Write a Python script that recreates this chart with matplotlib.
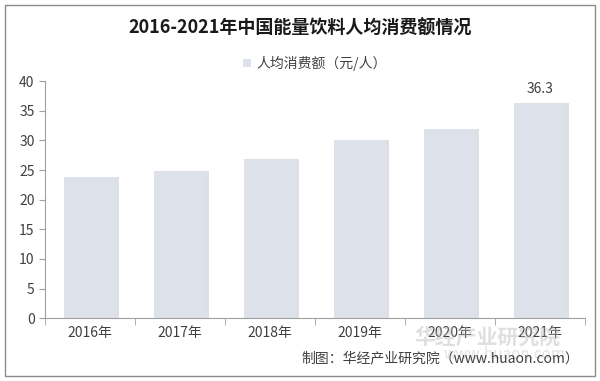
import matplotlib.pyplot as plt
from matplotlib.patches import Rectangle
import numpy as np

plt.rcParams['font.family'] = ['Noto Sans CJK SC', 'DejaVu Sans']

years = ["2016年", "2017年", "2018年", "2019年", "2020年", "2021年"]
spend = [23.8, 24.9, 26.9, 30.0, 32.0, 36.3]
series_name = "人均消费额（元/人）"

fig = plt.figure(figsize=(6.0, 3.81), dpi=100)
ax = fig.add_axes([0.075, 0.165, 0.9, 0.622])

x = np.arange(len(years))
bar_color = "#dde1ea"
# soft shadow to the right of each bar
ax.bar(x + 0.03, spend, width=0.58, color="#c8cad0", alpha=0.6, zorder=1)
ax.bar(x, spend, width=0.58, color=bar_color, zorder=2, label=series_name)

ax.text(x[-1], spend[-1] + 1.2, f"{spend[-1]}", ha="center", va="bottom",
        fontsize=10, color="#404040")

ax.set_xlim(-0.5, len(years) - 0.5)
ax.set_ylim(0, 40)
ax.set_yticks(range(0, 41, 5))
ax.set_xticks(x)
ax.set_xticklabels(years)
ax.set_xticks(np.arange(-0.5, len(years), 1), minor=True)
ax.tick_params(axis="x", which="major", length=0, pad=6, labelsize=10, labelcolor="#404040")
ax.tick_params(axis="x", which="minor", length=5, color="#a0a0a0")
ax.tick_params(axis="y", length=4, color="#a0a0a0", labelsize=10, labelcolor="#404040")

for s in ["top", "right"]:
    ax.spines[s].set_visible(False)
for s in ["left", "bottom"]:
    ax.spines[s].set_color("#a0a0a0")

fig.text(0.5, 0.925, "2016-2021年中国能量饮料人均消费额情况", ha="center", va="center",
         fontsize=13, fontweight="bold", color="#1a1a1a")

ax.legend(loc="upper center", bbox_to_anchor=(0.5, 1.16), frameon=False,
          fontsize=10, handlelength=0.6, handleheight=0.6, handletextpad=0.4,
          labelcolor="#404040")

# watermark
fig.text(0.69, 0.115, "华经产业研究院", fontsize=15, fontweight="bold",
         color="#b8b8b8", alpha=0.45, va="center")
fig.text(0.74, 0.07, "www.huaon.com", fontsize=11, color="#b8b8b8", alpha=0.4, va="center")

fig.text(0.965, 0.06, "制图：华经产业研究院（www.huaon.com）", ha="right", va="center",
         fontsize=10, color="#404040")

fig.patches.append(Rectangle((0.008, 0.013), 0.984, 0.974, transform=fig.transFigure,
                             fill=False, edgecolor="#8c8c8c", linewidth=1))

fig.savefig("out.png", dpi=100)
